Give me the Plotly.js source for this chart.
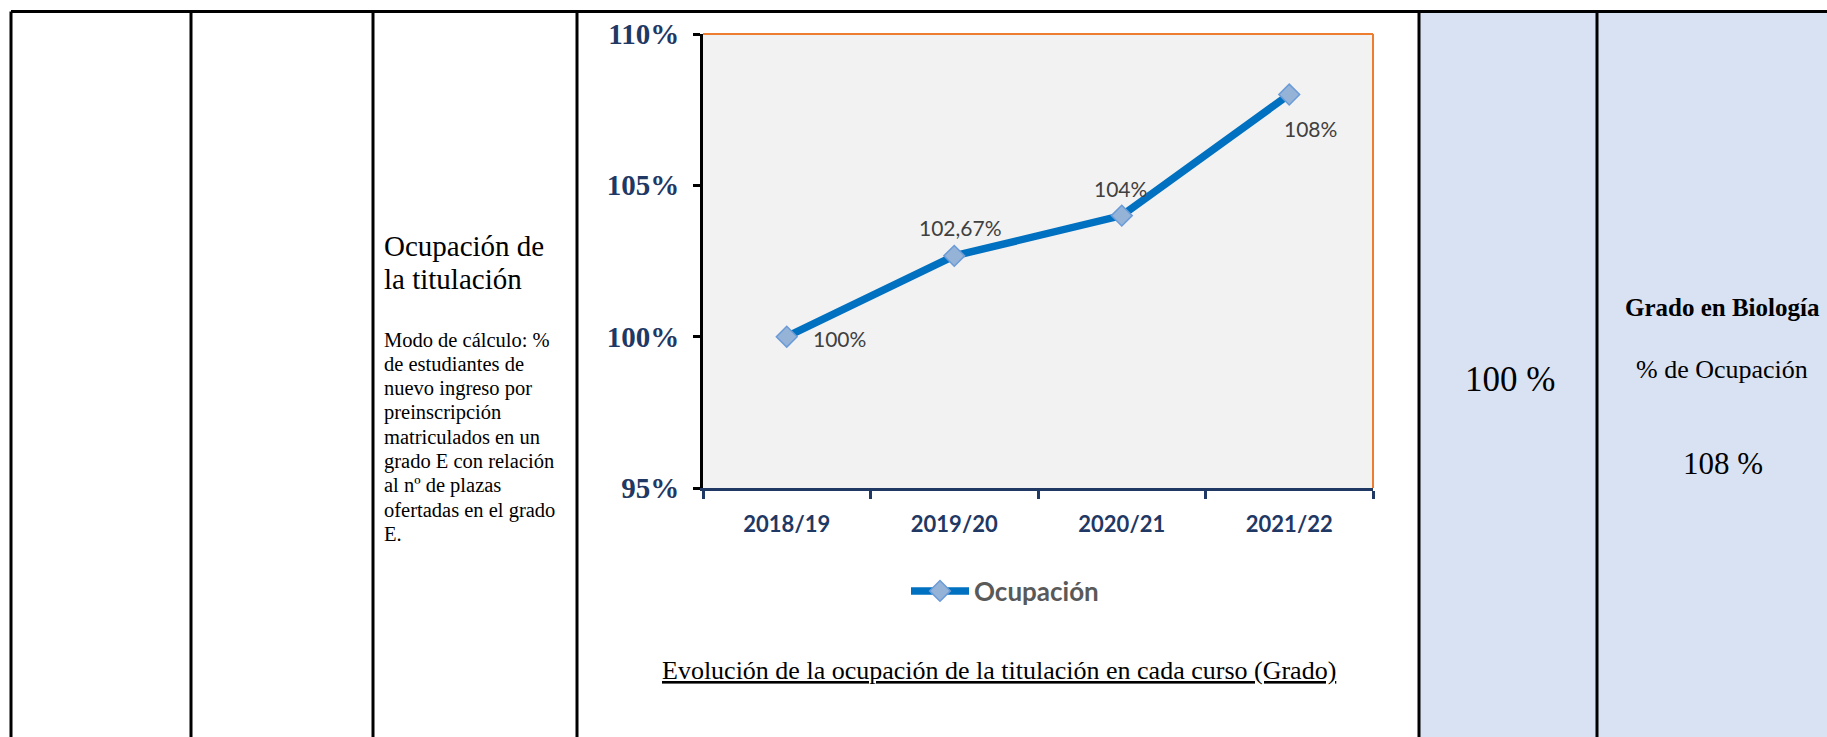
<!DOCTYPE html>
<html>
<head>
<meta charset="utf-8">
<script src="https://cdn.plot.ly/plotly-3.0.1.min.js"></script>
<style>
  html, body { margin: 0; padding: 0; background: #ffffff; }
  #chart { width: 1827px; height: 737px; }
</style>
</head>
<body>
<div id="chart"></div>
<script>
// ---- data ----
const categories = ['2018/19', '2019/20', '2020/21', '2021/22'];
const ocupacion = [100, 102.67, 104, 108];
const pointLabels = ['100%', '102,67%', '104%', '108%'];
const yTickValues = [95, 100, 105, 110];
const yTickLabels = ['95%', '100%', '105%', '110%'];
const seriesName = 'Ocupación';
const captionText = 'Evolución de la ocupación de la titulación en cada curso (Grado)';
const headingLines = ['Ocupación de', 'la titulación'];
const methodLines = [
  'Modo de cálculo: %',
  'de estudiantes de',
  'nuevo ingreso por',
  'preinscripción',
  'matriculados en un',
  'grado E con relación',
  'al nº de plazas',
  'ofertadas en el grado',
  'E.'
];
const targetValue = '100 %';
const degreeName = 'Grado en Biología';
const degreeMetric = '% de Ocupación';
const degreeValue = '108 %';

// ---- layout helpers (pixel -> paper) ----
const W = 1827, H = 737;
const px = v => v / W;
const py = v => 1 - v / H;

// label placement offsets (style, not data)
const labelOffsets = [
  {xanchor: 'left', xshift: 24, yshift: -2},
  {xanchor: 'center', xshift: 6, yshift: 28},
  {xanchor: 'center', xshift: -1, yshift: 27},
  {xanchor: 'center', xshift: 21, yshift: -34}
];

const serif = 'Liberation Serif, Times New Roman, serif';
const sans = 'Lato, Open Sans, sans-serif';
const navy = '#1F3864';

const trace = {
  type: 'scatter',
  mode: 'lines+markers',
  x: categories,
  y: ocupacion,
  name: seriesName,
  line: {color: '#0070C0', width: 7.5},
  marker: {symbol: 'diamond', size: 16, color: '#95B3D7', line: {color: '#6A9BD8', width: 1.5}},
  hoverinfo: 'skip'
};

const annotations = [];
categories.forEach((c, i) => {
  annotations.push(Object.assign({
    x: c, y: ocupacion[i], xref: 'x', yref: 'y',
    text: pointLabels[i], showarrow: false, yanchor: 'middle',
    font: {family: sans, size: 21, color: '#404040'}
  }, labelOffsets[i]));
});

// caption
annotations.push({
  xref: 'paper', yref: 'paper', x: px(999), y: py(670),
  xanchor: 'center', yanchor: 'middle', showarrow: false,
  text: '<u>' + captionText + '</u>',
  font: {family: serif, size: 26, color: '#000000'}
});

// left column heading
headingLines.forEach((t, i) => {
  annotations.push({
    xref: 'paper', yref: 'paper', x: px(382), y: py(246 + i * 33),
    xanchor: 'left', yanchor: 'middle', showarrow: false, text: t,
    font: {family: serif, size: 29, color: '#000000'}
  });
});
methodLines.forEach((t, i) => {
  annotations.push({
    xref: 'paper', yref: 'paper', x: px(382), y: py(340 + i * 24.3),
    xanchor: 'left', yanchor: 'middle', showarrow: false, text: t,
    font: {family: serif, size: 20.5, color: '#000000'}
  });
});

// right columns
annotations.push({
  xref: 'paper', yref: 'paper', x: px(1510), y: py(379),
  xanchor: 'center', yanchor: 'middle', showarrow: false, text: targetValue,
  font: {family: serif, size: 35, color: '#000000'}
});
annotations.push({
  xref: 'paper', yref: 'paper', x: px(1722), y: py(307),
  xanchor: 'center', yanchor: 'middle', showarrow: false, text: '<b>' + degreeName + '</b>',
  font: {family: serif, size: 25, color: '#000000'}
});
annotations.push({
  xref: 'paper', yref: 'paper', x: px(1722), y: py(369),
  xanchor: 'center', yanchor: 'middle', showarrow: false, text: degreeMetric,
  font: {family: serif, size: 26, color: '#000000'}
});
annotations.push({
  xref: 'paper', yref: 'paper', x: px(1723), y: py(463),
  xanchor: 'center', yanchor: 'middle', showarrow: false, text: degreeValue,
  font: {family: serif, size: 31, color: '#000000'}
});

// table shapes
const tableTop = 11.5;
const colLines = [11, 191, 373, 577, 1419, 1597];
const shapes = [
  {type: 'rect', xref: 'paper', yref: 'paper', x0: px(1419), x1: 1, y0: 0, y1: py(tableTop),
   fillcolor: '#D9E2F3', line: {width: 0}, layer: 'below'},
  {type: 'line', xref: 'paper', yref: 'paper', x0: px(colLines[0]), x1: 1, y0: py(tableTop), y1: py(tableTop),
   line: {color: '#000000', width: 3}}
];
colLines.forEach(xv => {
  shapes.push({type: 'line', xref: 'paper', yref: 'paper', x0: px(xv), x1: px(xv), y0: py(tableTop), y1: 0,
    line: {color: '#000000', width: 3}});
});
// orange top/right plot border
shapes.push({type: 'line', xref: 'x domain', yref: 'y domain', x0: 0, x1: 1, y0: 1, y1: 1,
  line: {color: '#ED7D31', width: 2}});
shapes.push({type: 'line', xref: 'x domain', yref: 'y domain', x0: 1, x1: 1, y0: 0, y1: 1,
  line: {color: '#ED7D31', width: 2}});

const layout = {
  width: W, height: H,
  margin: {l: 0, r: 0, t: 0, b: 0},
  paper_bgcolor: '#ffffff',
  plot_bgcolor: '#F2F2F2',
  showlegend: true,
  legend: {
    orientation: 'h', x: px(1005), xanchor: 'center', y: py(591), yanchor: 'middle',
    font: {family: sans, size: 26, color: '#595959', weight: 'bold'},
    itemwidth: 58,
    bgcolor: 'rgba(0,0,0,0)'
  },
  xaxis: {
    domain: [px(703), px(1373)],
    type: 'category',
    categoryorder: 'array', categoryarray: categories,
    range: [-0.5, categories.length - 0.5],
    showgrid: false, zeroline: false,
    showline: true, linecolor: navy, linewidth: 3,
    ticks: 'outside', tickson: 'boundaries', ticklen: 8, tickwidth: 3, tickcolor: navy,
    tickfont: {family: sans, size: 22, color: navy, weight: 'bold'},
    ticklabelstandoff: 15,
    fixedrange: true
  },
  yaxis: {
    domain: [py(488), py(34)],
    range: [yTickValues[0], yTickValues[yTickValues.length - 1]],
    tickmode: 'array',
    tickvals: yTickValues,
    ticktext: yTickLabels,
    showgrid: false, zeroline: false,
    showline: true, linecolor: '#000000', linewidth: 3,
    ticks: 'outside', ticklen: 7, tickwidth: 3, tickcolor: '#000000',
    tickfont: {family: serif, size: 29, color: navy, weight: 'bold'},
    ticklabelstandoff: 8,
    fixedrange: true
  },
  annotations: annotations,
  shapes: shapes
};

Plotly.newPlot('chart', [trace], layout, {displayModeBar: false, staticPlot: true});
</script>
</body>
</html>
